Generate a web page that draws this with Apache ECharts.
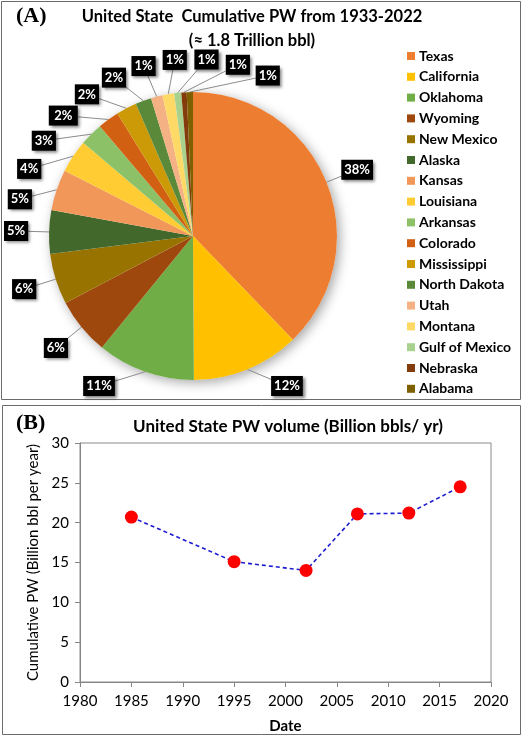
<!DOCTYPE html>
<html><head><meta charset="utf-8">
<script src="https://cdn.jsdelivr.net/npm/echarts@6/dist/echarts.min.js"></script>
<style>html,body{margin:0;padding:0;background:#fff}#c{width:524px;height:738px}</style>
</head><body><div id="c"></div>
<script>
// ---- Data ----
const states = ['Texas','California','Oklahoma','Wyoming','New Mexico','Alaska','Kansas','Louisiana','Arkansas','Colorado','Mississippi','North Dakota','Utah','Montana','Gulf of Mexico','Nebraska','Alabama'];
const shares = [37.8, 12.1, 11.0, 6.4, 5.7, 4.9, 4.6, 3.7, 2.6, 2.4, 2.3, 1.8, 1.3, 1.3, 0.8, 0.6, 0.7];
const stateColors = ['#ED7D31','#FFC000','#70AD47','#9E480E','#997300','#43682B','#F1975A','#FFCD33','#8CC168','#D26012','#CC9A06','#5A8A39','#F4B183','#FFD966','#A9D18E','#843C0C','#7F6000'];
const years = [1985, 1995, 2002, 2007, 2012, 2017];
const pwVolume = [20.7, 15.1, 14.0, 21.1, 21.2, 24.5];

// ---- Layout constants ----
const FONT = 'Lato, "Open Sans", sans-serif';
const PIE_C = [193, 236], PIE_R = 144, LABEL_R = 177, MIN_SEP = 10.3, LABEL_MAX_Y = 386;

const total = shares.reduce((a, b) => a + b, 0);
let acc = 0;
const midAngles = shares.map(v => { const m = (acc + v / 2) / total * 360; acc += v; return m; });
// keep label centres above the panel's bottom edge
const lim = Math.acos(-(LABEL_MAX_Y - PIE_C[1]) / LABEL_R) * 180 / Math.PI;
const boundedAngles = midAngles.map(a => (a > lim && a <= 180) ? lim : (a > 180 && a < 360 - lim) ? 360 - lim : a);
function relax(a, sep) {
  const b = a.map((v, i) => v - i * sep);
  const blocks = [];
  b.forEach(v => {
    blocks.push({ sum: v, n: 1 });
    while (blocks.length > 1) {
      const p = blocks[blocks.length - 2], q = blocks[blocks.length - 1];
      if (p.sum / p.n > q.sum / q.n) { p.sum += q.sum; p.n += q.n; blocks.pop(); } else break;
    }
  });
  const out = [];
  blocks.forEach(bl => { for (let k = 0; k < bl.n; k++) out.push(bl.sum / bl.n); });
  return out.map((v, i) => v + i * sep);
}
const labelAngles = relax(boundedAngles, MIN_SEP);

const chart = echarts.init(document.getElementById('c'));
const option = {
  animation: false,
  backgroundColor: '#fff',
  graphic: [
    { type: 'rect', shape: { x: 1.5, y: 1.5, width: 519, height: 398 }, style: { fill: 'none', stroke: '#6b6b6b', lineWidth: 1 }, z: -10 },
    { type: 'rect', shape: { x: 2.5, y: 405.5, width: 518, height: 329 }, style: { fill: 'none', stroke: '#6b6b6b', lineWidth: 1 }, z: -10 }
  ],
  title: [
    { text: '(A)', left: 11, top: 0, textStyle: { fontFamily: '"Liberation Serif", serif', fontWeight: 'bold', fontSize: 22, color: '#000' } },
    { text: 'United State  Cumulative PW from 1933-2022\n(≈ 1.8 Trillion bbl)', left: 247, top: 0, textAlign: 'center',
      textStyle: { fontFamily: FONT, fontWeight: 'bold', fontSize: 16.5, lineHeight: 24, color: '#000' } },
    { text: '(B)', left: 11, top: 407, textStyle: { fontFamily: '"Liberation Serif", serif', fontWeight: 'bold', fontSize: 22, color: '#000' } },
    { text: 'United State PW volume (Billion bbls/ yr)', left: 283, top: 413, textAlign: 'center',
      textStyle: { fontFamily: FONT, fontWeight: 'bold', fontSize: 17, color: '#000' } }
  ],
  legend: {
    orient: 'vertical', left: 402, top: 43,
    data: states, icon: 'rect', itemWidth: 8, itemHeight: 8, itemGap: 4.8,
    textStyle: { fontFamily: FONT, fontWeight: 'bold', fontSize: 14, lineHeight: 16, color: '#000', padding: [0, 0, 0, -1] }
  },
  grid: { left: 80, right: 33, top: 443, bottom: 56, show: true, borderColor: '#8a8a8a', borderWidth: 1, containLabel: false },
  xAxis: {
    type: 'value', min: 1980, max: 2020, interval: 5,
    name: 'Date', nameLocation: 'middle', nameGap: 37,
    nameTextStyle: { fontFamily: FONT, fontWeight: 'bold', fontSize: 15, color: '#000' },
    axisLine: { show: true, lineStyle: { color: '#868686' } },
    axisTick: { show: true, inside: false, length: 5, lineStyle: { color: '#868686' } },
    axisLabel: { fontFamily: FONT, fontSize: 15, color: '#000', margin: 12, formatter: v => String(v) },
    splitLine: { show: false }
  },
  yAxis: {
    type: 'value', min: 0, max: 30, interval: 5,
    name: 'Cumulative PW (Billion bbl per year)', nameLocation: 'middle', nameGap: 36,
    nameTextStyle: { fontFamily: FONT, fontSize: 15, color: '#000' },
    axisLine: { show: true, lineStyle: { color: '#868686' } },
    axisTick: { show: true, inside: false, length: 5, lineStyle: { color: '#868686' } },
    axisLabel: { fontFamily: FONT, fontSize: 15, color: '#000', margin: 11 },
    splitLine: { show: false }
  },
  series: [
    {
      type: 'pie', silent: true, center: PIE_C, radius: PIE_R, z: 1,
      data: [{ value: total, name: '_bg' }], label: { show: false }, labelLine: { show: false },
      itemStyle: { color: '#fff', shadowBlur: 12, shadowColor: 'rgba(0,0,0,0.35)', shadowOffsetX: 3, shadowOffsetY: 3 },
      emphasis: { disabled: true }
    },
    {
      type: 'pie', center: PIE_C, radius: PIE_R, startAngle: 90, clockwise: true, z: 2,
      data: states.map((s, i) => ({ name: s, value: shares[i], itemStyle: { color: stateColors[i] } })),
      label: {
        show: true, position: 'outside', overflow: 'none', alignTo: 'none', edgeDistance: 0, bleedMargin: 0,
        formatter: p => Math.round(p.percent) + '%',
        fontFamily: FONT, fontWeight: 'bold', fontSize: 13, color: '#fff',
        backgroundColor: '#000', padding: [4, 3, 3, 3],
        shadowBlur: 3, shadowColor: 'rgba(0,0,0,0.5)', shadowOffsetX: 2, shadowOffsetY: 2
      },
      labelLine: { show: true, length: 10, length2: 10, lineStyle: { color: '#8c8c8c', width: 1 } },
      labelLayout: function (params) {
        if (params.seriesIndex !== 1) return;
        const i = params.dataIndex;
        const th = labelAngles[i] * Math.PI / 180;
        const cx = PIE_C[0] + LABEL_R * Math.sin(th);
        const cy = PIE_C[1] - LABEL_R * Math.cos(th);
        const mth = midAngles[i] * Math.PI / 180;
        const ex = PIE_C[0] + PIE_R * Math.sin(mth);
        const ey = PIE_C[1] - PIE_R * Math.cos(mth);
        const w = params.labelRect.width, h = params.labelRect.height;
        let ux = ex - cx, uy = ey - cy;
        const len = Math.hypot(ux, uy) || 1; ux /= len; uy /= len;
        const t = Math.min(Math.abs(ux) > 1e-6 ? (w / 2) / Math.abs(ux) : 1e9, Math.abs(uy) > 1e-6 ? (h / 2) / Math.abs(uy) : 1e9);
        const ax = cx + ux * t, ay = cy + uy * t;
        return { x: cx, y: cy, align: 'center', verticalAlign: 'middle', labelLinePoints: [[ex, ey], [ex, ey], [ax, ay]] };
      },
      itemStyle: { borderWidth: 0 },
      emphasis: { disabled: true }
    },
    {
      type: 'line', data: years.map((y, i) => [y, pwVolume[i]]),
      symbol: 'circle', symbolSize: 13,
      itemStyle: { color: '#ff0000' },
      lineStyle: { color: '#1c1cd2', width: 1.6, type: [4, 3] }
    }
  ]
};
chart.setOption(option);
</script>
</body></html>
